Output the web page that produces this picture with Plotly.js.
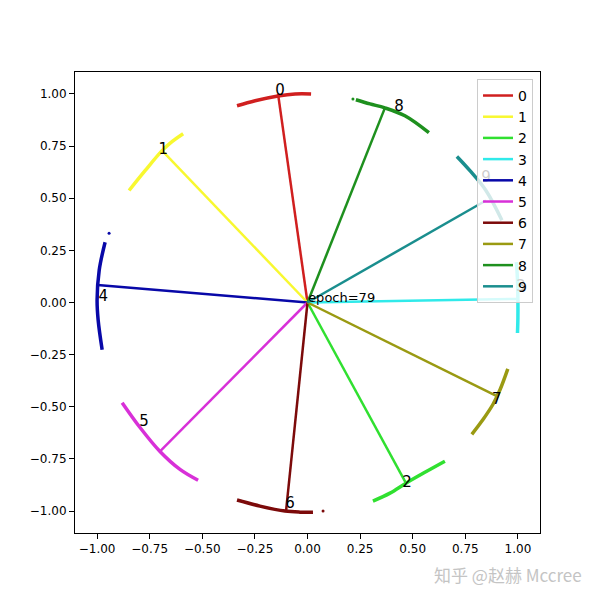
<!DOCTYPE html>
<html>
<head>
<meta charset="utf-8">
<script src="https://cdn.plot.ly/plotly-3.0.1.min.js"></script>
<style>
  html, body { margin: 0; padding: 0; background: #fff; }
  #grafico { width: 600px; height: 600px; }
</style>
</head>
<body>
<div id="grafico"></div>
<script>
// classes e cores
const classes = ['0', '1', '2', '3', '4', '5', '6', '7', '8', '9'];
const cores = ['#d01f1f', '#f8f830', '#30e030', '#30eaea', '#0808a8',
               '#d830d8', '#7c0a0a', '#9a9a12', '#1e901e', '#1a8e8e'];

// ponta de cada vetor (pesos normalizados)
const pontaX = [-0.140, -0.691, 0.468, 1.000, -0.998, -0.701, -0.102, 0.895, 0.368, 0.848];
const pontaY = [1.000, 0.728, -0.866, 0.017, 0.084, -0.714, -1.000, -0.446, 0.933, 0.489];

// arcos de pontos (features)
const arcoX = [
    [-0.335, -0.249, -0.140, -0.059, 0.017],
    [-0.848, -0.772, -0.691, -0.644, -0.591],
    [0.311, 0.392, 0.468, 0.558, 0.653],
    [0.993, 0.998, 1.000, 1.000, 0.998],
    [-0.962, -0.990, -1.000, -0.995, -0.976],
    [-0.881, -0.796, -0.701, -0.606, -0.520],
    [-0.335, -0.226, -0.107, -0.036, 0.026],
    [0.952, 0.915, 0.881, 0.834, 0.781],
    [0.230, 0.297, 0.368, 0.463, 0.577],
    [0.710, 0.772, 0.848, 0.924]
];
const arcoY = [
    [0.943, 0.967, 0.990, 1.000, 1.000],
    [0.537, 0.632, 0.728, 0.771, 0.809],
    [-0.952, -0.914, -0.866, -0.814, -0.761],
    [0.193, 0.107, 0.012, -0.074, -0.146],
    [0.289, 0.155, 0.012, -0.084, -0.227],
    [-0.480, -0.599, -0.714, -0.800, -0.852],
    [-0.947, -0.976, -1.000, -1.005, -1.005],
    [-0.318, -0.418, -0.489, -0.561, -0.632],
    [0.972, 0.952, 0.933, 0.895, 0.814],
    [0.700, 0.632, 0.537, 0.394]
];

// pontos soltos
const soltoX = [0.216, -0.943, 0.074];
const soltoY = [0.976, 0.332, -1.000];
const soltoCor = ['#1e901e', '#0808a8', '#7c0a0a'];

// posição dos rótulos
const rotuloX = [-0.131, -0.686, 0.473, 1.014, -0.971, -0.777, -0.083, 0.900, 0.435, 0.848];
const rotuloY = [1.014, 0.728, -0.866, 0.074, 0.026, -0.575, -0.967, -0.470, 0.938, 0.594];

const ticks = [-1.00, -0.75, -0.50, -0.25, 0.00, 0.25, 0.50, 0.75, 1.00];

const dados = [];

// arcos primeiro
classes.forEach((c, i) => {
    dados.push({
        x: arcoX[i], y: arcoY[i],
        type: 'scatter', mode: 'lines',
        line: { color: cores[i], width: 3.5, shape: 'spline' },
        showlegend: false, hoverinfo: 'skip'
    });
});

dados.push({
    x: soltoX, y: soltoY,
    type: 'scatter', mode: 'markers',
    marker: { color: soltoCor, size: 3 },
    showlegend: false, hoverinfo: 'skip'
});

// vetores da origem
classes.forEach((c, i) => {
    dados.push({
        x: [0, pontaX[i]], y: [0, pontaY[i]],
        type: 'scatter', mode: 'lines',
        name: c,
        line: { color: cores[i], width: 2.5 }
    });
});

// rótulos
dados.push({
    x: rotuloX, y: rotuloY, text: classes,
    type: 'scatter', mode: 'text',
    textposition: 'middle center',
    textfont: { family: 'DejaVu Sans', size: 15, color: '#000' },
    showlegend: false, hoverinfo: 'skip'
});

dados.push({
    x: [0.003], y: [0.02], text: ['epoch=79'],
    type: 'scatter', mode: 'text',
    textposition: 'middle right',
    textfont: { family: 'DejaVu Sans', size: 13, color: '#000' },
    showlegend: false, hoverinfo: 'skip'
});

const eixo = {
    range: [-1.105, 1.105],
    tickvals: ticks,
    tickformat: '.2f',
    ticks: 'outside', ticklen: 5, tickcolor: '#000',
    showline: true, mirror: true, linecolor: '#000', linewidth: 1,
    showgrid: false, zeroline: false,
    tickfont: { family: 'DejaVu Sans', size: 12, color: '#000' }
};

const layout = {
    width: 600, height: 600,
    margin: { l: 75, r: 60, t: 72, b: 67 },
    paper_bgcolor: '#fff',
    plot_bgcolor: '#fff',
    xaxis: Object.assign({}, eixo),
    yaxis: Object.assign({}, eixo),
    showlegend: true,
    legend: {
        x: 0.985, y: 0.985, xanchor: 'right', yanchor: 'top',
        bgcolor: 'rgba(255,255,255,0.8)',
        bordercolor: '#cccccc', borderwidth: 1,
        font: { family: 'DejaVu Sans', size: 14, color: '#000' },
        itemwidth: 30
    },
    annotations: [{
        xref: 'paper', yref: 'paper',
        x: 0.931, y: -0.091,
        xanchor: 'center', yanchor: 'middle',
        text: '知乎 @赵赫 Mccree',
        showarrow: false,
        font: { family: 'Noto Sans CJK SC', size: 17, color: '#c4c4c4' }
    }]
};

Plotly.newPlot('grafico', dados, layout, { displayModeBar: false, staticPlot: true });
</script>
</body>
</html>
